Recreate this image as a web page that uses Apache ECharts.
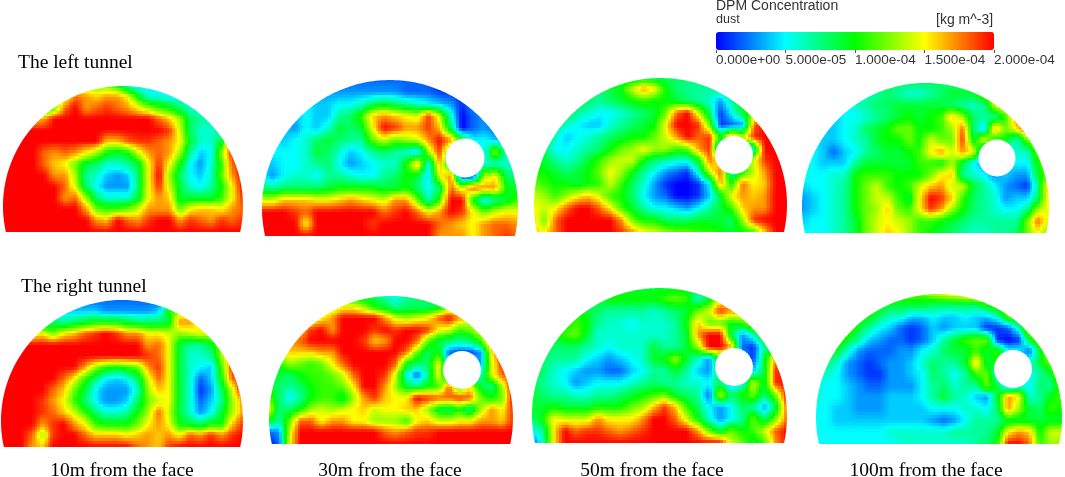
<!DOCTYPE html>
<html>
<head>
<meta charset="utf-8">
<title>DPM Concentration</title>
<style>
  html, body { margin: 0; padding: 0; background: #fff; }
  #chart { width: 1065px; height: 477px; }
</style>
</head>
<body>
<div id="chart"></div>
<script src="https://cdn.jsdelivr.net/npm/echarts@6/dist/echarts.min.js"></script>
<script>
// concentration, unit 1e-5 kg m^-3, rows go top to bottom
const left10 = [
  [20,20,20,20,18,16,14,14,13,12,12,10,6,4,4,4,4,4,4,4,4,4,4,4],
  [20,20,20,18,16,15,14,18,17,16,17,17,15,10,6,6,5,5,5,5,5,5,5,5],
  [18,18,16,14,8,12,18,20,17,18,19,18,17,15,13,11,10,8,6,6,5,5,5,5],
  [20,20,20,16,17,20,20,20,20,20,20,20,20,20,20,18,16,13,8,7,6,5,5,5],
  [20,20,20,20,20,20,20,20,20,20,20,20,20,20,20,20,19,14,8,6,6,7,9,9],
  [20,20,20,20,20,20,20,20,20,20,16,16,18,19,19,18,17,15,9,6,6,9,18,18],
  [20,20,20,20,18,17,18,17,15,13,10,9,10,14,17,18,17,13,7,4,5,13,19,20],
  [20,20,20,20,18,16,15,12,9,8,6,6,7,9,15,19,15,10,5,3,6,11,18,20],
  [20,20,20,20,20,17,17,13,7,6,4,3,4,8,15,20,13,8,5,4,6,12,17,20],
  [20,20,20,20,20,20,18,14,8,5,3,3,3,8,15,19,14,9,6,5,7,10,15,20],
  [20,20,20,20,20,20,17,18,13,8,6,6,6,9,15,17,16,9,9,9,9,11,15,19],
  [20,20,20,20,20,20,20,20,17,12,11,11,12,14,17,17,17,12,15,16,16,15,17,18],
  [20,20,20,20,20,20,20,20,20,17,16,20,18,17,19,20,20,17,19,18,17,19,18,19],
  [20,20,20,20,20,20,20,20,20,20,20,20,20,20,20,20,20,20,20,20,20,20,20,20]
];
const left30 = [
  [2,2,2,2,2,2,2,2,2,2,2,2,2,2,2,2,2,2,2,2,2,2,2,2],
  [3,3,3,3,3,3,3,3,3,3,3,3,3,2,2,2,1,1,1,1,1,1,1,1],
  [5,5,5,5,5,4,4,5,5,6,8,9,8,7,6,5,4,3,1,3,3,3,3,3],
  [4,4,4,4,5,4,4,7,8,11,16,17,16,15,14,19,14,6,0,2,3,3,3,3],
  [4,4,4,3,5,4,6,9,8,9,15,20,19,17,17,19,16,8,0,2,3,2,2,2],
  [5,5,4,5,6,8,9,8,7,7,12,14,12,13,14,17,20,17,10,5,5,4,3,3],
  [5,5,5,5,6,9,8,6,4,5,7,8,7,6,4,13,19,10,5,5,5,13,6,5],
  [4,4,5,5,6,7,8,5,3,4,5,6,6,10,17,5,17,8,6,6,6,6,6,6],
  [5,3,5,6,6,5,7,7,6,5,5,7,8,10,9,4,15,17,1,1,13,15,8,8],
  [8,7,8,8,8,8,9,10,10,10,10,9,9,10,8,5,8,18,14,18,17,17,10,9],
  [14,14,16,16,16,15,15,16,17,16,15,14,17,17,12,6,11,20,20,10,5,7,9,11],
  [20,20,20,19,18,20,20,20,20,20,20,18,19,20,18,15,17,20,19,15,12,14,15,15],
  [20,20,20,20,15,20,20,20,20,20,19,20,20,20,20,20,18,17,16,15,17,18,18,17],
  [20,20,20,20,20,20,20,20,20,20,20,20,20,20,20,20,17,17,17,15,17,18,19,18]
];
const left50 = [
  [8,8,8,8,8,8,8,8,8,8,8,8,8,8,8,8,8,8,8,8,8,8,8,8],
  [8,8,8,8,8,8,8,9,10,14,17,15,10,8,7,7,7,8,9,9,9,9,9,9],
  [9,9,9,9,9,8,7,8,9,10,11,10,10,9,8,7,6,3,7,10,10,10,10,10],
  [9,9,9,9,7,6,5,5,6,7,8,9,12,18,20,14,8,1,5,9,12,12,12,12],
  [8,8,8,6,5,4,4,6,7,8,9,10,15,20,20,19,12,1,2,3,18,20,20,20],
  [9,9,6,4,5,6,7,8,9,10,10,12,14,17,20,18,19,10,18,14,19,20,20,20],
  [10,8,5,5,6,7,8,10,12,13,15,13,13,11,12,17,19,3,3,3,6,20,20,20],
  [9,9,7,6,7,9,11,13,14,14,10,8,7,6,6,10,18,14,10,10,14,19,20,20],
  [10,10,9,8,9,10,12,15,13,10,7,5,3,2,1,6,14,18,6,10,14,17,20,20],
  [12,11,10,10,9,10,11,14,11,8,6,3,1,0,0,1,5,17,10,18,15,16,20,20],
  [14,13,11,13,15,16,14,11,10,8,5,3,2,0,0,1,4,9,15,17,16,17,20,20],
  [15,14,15,18,20,20,18,15,11,9,7,5,5,4,3,5,7,9,11,16,17,17,20,20],
  [16,12,18,20,20,20,20,20,17,12,10,10,8,8,8,9,9,9,8,13,19,20,20,20],
  [16,15,18,20,20,20,20,20,19,17,15,14,13,12,12,11,11,10,9,10,11,16,20,20]
];
const left100 = [
  [8,8,8,8,8,8,8,8,8,8,8,8,8,8,8,8,8,8,8,8,8,8,8,8],
  [6,6,6,6,6,6,6,7,8,7,6,6,7,8,9,9,9,12,12,12,12,12,12,12],
  [5,5,5,5,5,6,7,8,8,9,9,9,9,9,8,7,6,7,14,16,16,16,16,16],
  [4,4,4,4,5,5,6,7,8,9,10,9,10,11,16,13,8,7,7,11,18,18,18,18],
  [4,4,4,4,5,6,8,9,10,12,12,10,10,11,13,18,8,4,17,12,15,20,20,20],
  [5,5,4,4,5,6,7,9,10,10,12,10,14,12,12,19,9,15,10,10,6,12,15,15],
  [6,5,4,2,4,5,7,8,9,9,10,11,15,17,14,17,15,3,5,5,6,6,12,14],
  [6,5,4,4,4,7,9,9,9,9,9,11,11,10,13,9,5,3,5,5,5,5,10,13],
  [6,5,5,6,6,10,11,11,11,10,10,10,12,15,16,7,6,5,3,4,3,3,9,12],
  [4,5,5,6,7,10,12,14,11,10,11,14,16,17,14,14,9,7,5,3,2,1,7,17],
  [3,4,5,6,7,10,12,14,14,11,9,15,20,19,16,11,8,7,6,3,4,4,8,16],
  [3,4,5,6,7,10,12,13,16,12,11,15,19,17,13,10,8,7,6,5,5,7,13,15],
  [4,5,5,6,7,9,12,14,15,14,13,11,11,10,9,8,7,7,7,7,7,12,18,14],
  [5,5,5,6,7,9,12,14,16,15,13,11,10,9,8,7,6,6,7,7,8,12,15,12]
];
const right10 = [
  [2,2,2,2,2,2,2,2,2,2,2,2,2,2,2,2,2,2,2,2,2,2,2,2],
  [4,4,4,4,4,4,4,4,4,4,3,3,3,3,3,4,10,13,13,13,13,13,13,13],
  [6,6,6,6,6,8,7,8,9,10,10,10,9,8,8,8,9,17,17,14,14,14,14,14],
  [14,14,14,14,15,12,15,16,18,19,20,19,17,17,15,15,14,13,14,15,14,14,14,14],
  [20,20,20,20,20,20,20,20,20,20,20,20,20,20,17,18,15,9,7,7,9,13,13,13],
  [20,20,20,20,20,20,20,20,20,20,20,20,20,20,19,18,15,9,6,6,7,13,17,17],
  [20,20,20,20,20,20,20,20,17,13,11,10,11,12,17,19,15,9,6,5,4,11,19,19],
  [20,20,20,20,20,20,18,15,11,8,5,4,5,8,14,18,15,9,6,2,4,10,18,20],
  [20,20,20,20,20,18,16,12,9,5,3,3,3,6,13,16,15,9,6,1,3,8,14,20],
  [20,20,20,20,19,17,15,11,8,5,3,3,4,8,12,14,15,9,6,2,4,7,13,17],
  [20,20,20,20,19,18,16,14,11,8,6,6,7,10,13,18,14,9,6,3,5,9,13,17],
  [20,20,20,20,17,19,20,17,15,11,10,10,10,12,15,17,15,10,9,8,10,10,16,19],
  [20,20,20,18,13,19,20,20,18,16,16,16,15,16,17,16,17,15,18,17,19,17,19,20],
  [20,20,20,17,16,20,20,20,20,20,20,20,20,18,17,16,19,20,20,20,20,20,20,20]
];
const right30 = [
  [8,8,8,8,8,8,8,8,8,8,8,6,5,7,8,8,8,8,8,8,8,8,8,8],
  [13,13,13,13,13,13,13,15,15,13,10,9,7,8,8,8,9,12,12,12,12,12,12,12],
  [13,13,13,13,13,15,17,20,20,20,20,17,14,13,14,15,18,20,17,15,15,15,15,15],
  [16,16,16,16,19,20,17,20,20,20,19,20,19,20,20,19,15,14,11,12,15,15,15,15],
  [17,17,17,18,20,20,20,20,20,19,16,17,20,20,18,12,9,8,7,8,11,18,18,18],
  [14,14,16,16,16,17,17,20,20,20,20,20,20,18,12,8,10,2,1,1,3,15,20,20],
  [10,10,13,12,11,12,15,18,20,20,20,20,18,10,8,8,15,5,5,5,3,14,19,19],
  [9,9,8,10,11,11,12,14,18,20,20,19,14,6,2,7,15,5,5,5,6,14,18,20],
  [9,8,7,8,10,11,11,12,15,20,20,17,13,9,8,10,11,18,10,15,9,7,13,20],
  [12,8,5,7,10,11,11,9,13,17,19,16,15,15,20,19,18,18,19,18,12,10,12,20],
  [15,8,8,10,13,14,13,14,15,16,14,15,15,16,16,13,9,8,10,7,13,17,15,19],
  [10,7,12,18,18,15,17,17,15,15,13,13,13,11,15,16,14,14,15,15,17,17,16,19],
  [2,3,14,20,20,20,20,20,20,20,20,18,17,18,19,19,20,20,20,20,20,20,20,20],
  [0,2,15,20,20,20,20,20,20,20,20,20,20,20,20,20,20,20,20,20,20,20,20,20]
];
const right50 = [
  [9,9,9,9,9,9,9,9,9,9,9,9,9,9,9,9,9,9,9,9,9,9,9,9],
  [9,9,9,9,9,9,9,10,10,10,10,10,11,12,11,6,9,14,14,14,14,14,14,14],
  [9,9,9,9,10,9,8,7,7,7,7,6,7,8,9,12,14,19,17,17,17,17,17,17],
  [10,10,10,10,11,10,7,6,6,5,6,6,6,7,10,16,12,12,10,11,14,14,14,14],
  [9,9,9,11,12,9,6,6,6,6,6,6,6,7,9,17,20,20,9,3,6,12,12,12],
  [9,9,8,8,8,7,6,5,6,6,6,9,7,7,9,13,20,20,17,2,1,7,7,7],
  [9,8,7,7,7,5,4,3,4,5,6,9,10,13,9,6,3,10,5,5,1,9,17,17],
  [9,8,6,5,4,3,3,2,2,4,5,7,7,9,7,4,3,9,5,5,4,9,19,20],
  [9,7,6,5,3,4,5,5,5,6,7,8,7,7,6,6,5,8,3,5,14,9,19,20],
  [9,8,7,7,6,6,7,7,8,9,10,11,12,9,8,7,2,14,8,10,12,8,12,20],
  [9,9,10,9,9,9,10,10,10,12,13,16,19,16,11,8,5,3,5,8,7,3,8,18],
  [8,10,15,14,14,14,17,15,15,15,17,20,20,18,14,10,6,3,5,7,12,8,12,18],
  [5,7,15,20,18,19,19,18,17,18,19,20,20,20,20,17,12,9,12,10,11,14,18,20],
  [1,6,15,20,20,20,20,20,20,20,20,20,20,20,20,20,20,20,14,12,9,11,17,20]
];
const right100 = [
  [12,12,12,12,12,12,12,12,12,12,12,14,15,16,17,18,18,18,18,18,18,18,18,18],
  [10,10,10,10,10,10,10,9,9,9,9,8,8,8,8,8,10,12,12,12,12,12,12,12],
  [12,12,12,12,11,10,8,6,6,4,4,5,4,4,5,4,4,6,12,13,13,13,13,13],
  [14,14,14,13,9,7,5,4,2,1,2,4,3,4,4,4,1,1,2,6,15,15,15,15],
  [14,14,13,9,7,4,3,2,2,1,2,4,7,9,11,12,12,1,0,1,9,13,13,13],
  [10,10,9,6,3,2,2,2,3,3,5,6,8,9,9,11,9,11,5,5,2,9,16,16],
  [7,8,6,3,2,1,2,3,3,4,6,8,7,7,9,16,9,10,5,5,6,9,12,19],
  [6,6,5,3,2,1,1,3,3,4,5,8,7,5,7,11,12,5,5,5,5,7,9,15],
  [6,5,5,4,3,2,2,3,3,3,5,7,8,6,7,7,12,9,3,6,5,8,7,12],
  [6,5,5,4,3,3,3,4,4,4,5,7,9,7,6,4,3,9,17,15,6,7,10,11],
  [5,5,4,4,3,3,3,4,4,4,4,5,5,5,6,6,5,8,17,13,9,8,11,10],
  [5,5,4,4,4,4,4,4,4,4,4,3,2,3,5,7,7,7,9,9,9,9,9,9],
  [5,5,5,5,5,5,5,6,6,6,6,6,6,7,7,7,7,9,15,17,16,10,14,14],
  [5,5,5,5,5,5,5,5,6,6,6,6,6,6,6,7,8,10,20,20,18,11,13,13]
];
const panelValues = [left10, left30, left50, left100, right10, right30, right50, right100];

const barTicks = [0, 5, 10, 15, 20];
const barTickLabels = ['0.000e+00', '5.000e-05', '1.000e-04', '1.500e-04', '2.000e-04'];
const captions = ['10m from the face', '30m from the face', '50m from the face', '100m from the face'];

// where each tunnel section sits on the page: circle, cut line, fan duct hole
const panelLayout = [
  { cx: 123, cy: 206, r: 120, bottom: 232 },
  { cx: 390, cy: 208, r: 128, bottom: 236, hole: [465, 158, 19.5] },
  { cx: 660.5, cy: 204.5, r: 126.5, bottom: 232, hole: [734, 155, 19] },
  { cx: 925.5, cy: 206.5, r: 123.5, bottom: 233, hole: [997, 158, 18.5] },
  { cx: 122, cy: 421, r: 121, bottom: 447 },
  { cx: 391, cy: 418, r: 122, bottom: 444, hole: [462, 370, 19] },
  { cx: 659.5, cy: 415.5, r: 127.5, bottom: 443, hole: [734, 367, 19] },
  { cx: 939, cy: 417, r: 123, bottom: 444, hole: [1013, 369, 19] }
];
const captionCenters = [122, 390, 652, 926];

const rainbow = ['#0000ff', '#00ffff', '#00ff00', '#ffff00', '#ff0000'];
const maxValue = 20;
const subSteps = 4;

const chart = echarts.init(document.getElementById('chart'), null, { renderer: 'canvas' });

// one quad between neighbouring read values, shaded like the solver's contour fill
const renderCells = values => (params, api) => {
  const i = api.value(0);
  const j = api.value(1);
  if (i >= values[0].length - 1 || j >= values.length - 1) return null;
  const p0 = api.coord([i, j]);
  const p1 = api.coord([i + 1, j + 1]);
  const a = values[j][i];
  const b = values[j][i + 1];
  const c = values[j + 1][i];
  const d = values[j + 1][i + 1];
  const children = [];
  for (let sy = 0; sy < subSteps; sy++) {
    for (let sx = 0; sx < subSteps; sx++) {
      const u = (sx + 0.5) / subSteps;
      const w = (sy + 0.5) / subSteps;
      const v = (a * (1 - u) + b * u) * (1 - w) + (c * (1 - u) + d * u) * w;
      const x0 = Math.floor(p0[0] + (p1[0] - p0[0]) * sx / subSteps);
      const x1 = Math.ceil(p0[0] + (p1[0] - p0[0]) * (sx + 1) / subSteps);
      const y0 = Math.floor(p0[1] + (p1[1] - p0[1]) * sy / subSteps);
      const y1 = Math.ceil(p0[1] + (p1[1] - p0[1]) * (sy + 1) / subSteps);
      children.push({
        type: 'rect',
        shape: { x: x0, y: y0, width: x1 - x0, height: y1 - y0 },
        style: { fill: echarts.color.lerp(v / maxValue, rainbow) }
      });
    }
  }
  return { type: 'group', children };
};

// white everywhere outside the tunnel section, plus the duct hole
const renderMask = p => () => {
  const L = p.cx - p.r - 4;
  const R = p.cx + p.r + 4;
  const T = p.cy - p.r - 4;
  const B = p.bottom;
  const half = Math.acos((B - p.cy) / p.r);
  const points = [[L, B], [L, T], [R, T], [R, B]];
  for (let k = 0; k <= 160; k++) {
    const t = half + (2 * Math.PI - 2 * half) * k / 160;
    points.push([p.cx + p.r * Math.sin(t), p.cy + p.r * Math.cos(t)]);
  }
  const children = [
    { type: 'polygon', shape: { points }, style: { fill: '#fff' } },
    { type: 'rect', shape: { x: L, y: B, width: R - L, height: 4 }, style: { fill: '#fff' } }
  ];
  if (p.hole) {
    children.push({
      type: 'circle',
      shape: { cx: p.hole[0], cy: p.hole[1], r: p.hole[2] },
      style: { fill: '#fff' }
    });
  }
  return { type: 'group', children };
};

const grids = [];
const xAxes = [];
const yAxes = [];
const series = [];

panelValues.forEach((values, idx) => {
  const p = panelLayout[idx];
  grids.push({ left: p.cx - p.r, top: p.cy - p.r, width: 2 * p.r, height: p.bottom - p.cy + p.r });
  xAxes.push({ type: 'value', gridIndex: idx, min: 0, max: values[0].length - 1, show: false });
  yAxes.push({ type: 'value', gridIndex: idx, min: 0, max: values.length - 1, inverse: true, show: false });
  const cells = [];
  values.forEach((row, j) => row.forEach((v, i) => cells.push([i, j, v])));
  series.push({
    type: 'custom',
    xAxisIndex: idx,
    yAxisIndex: idx,
    data: cells,
    renderItem: renderCells(values),
    progressive: 0,
    silent: true,
    animation: false,
    clip: false,
    z: 1
  });
  series.push({
    type: 'custom',
    xAxisIndex: idx,
    yAxisIndex: idx,
    data: [[0, 0]],
    renderItem: renderMask(p),
    silent: true,
    animation: false,
    clip: false,
    z: 2
  });
});

// colour bar ticks live on their own little axis
grids.push({ left: 716, top: 49, width: 278, height: 1 });
xAxes.push({
  type: 'value',
  gridIndex: 8,
  min: 0,
  max: maxValue,
  interval: barTicks[1] - barTicks[0],
  axisLine: { show: false },
  splitLine: { show: false },
  axisTick: { show: true, length: 3, lineStyle: { color: '#555' } },
  axisLabel: {
    align: 'left',
    margin: 3,
    fontFamily: 'Liberation Sans',
    fontSize: 13.5,
    color: '#333',
    showMaxLabel: true,
    formatter: (val) => barTickLabels[barTicks.indexOf(val)]
  }
});
yAxes.push({ type: 'value', gridIndex: 8, show: false });

const serif = { fontFamily: 'Liberation Serif', fontSize: 19.5, fontWeight: 'normal', color: '#000' };
const sans = { fontFamily: 'Liberation Sans', fontWeight: 'normal', color: '#333' };

const titles = [
  { text: 'The left tunnel', left: 18, top: 53, textStyle: serif, padding: 0 },
  { text: 'The right tunnel', left: 21, top: 277, textStyle: serif, padding: 0 },
  { text: 'DPM Concentration', left: 716, top: -1, textStyle: { ...sans, fontSize: 14 }, padding: 0 },
  { text: 'dust', left: 716, top: 13, textStyle: { ...sans, fontSize: 12.5 }, padding: 0 },
  { text: '[kg m^-3]', left: 936, top: 13, textStyle: { ...sans, fontSize: 14 }, padding: 0 }
];
captions.forEach((text, i) => {
  titles.push({ text, left: captionCenters[i], top: 461, textAlign: 'center', textStyle: serif, padding: 0 });
});

chart.setOption({
  backgroundColor: '#fff',
  animation: false,
  title: titles,
  grid: grids,
  xAxis: xAxes,
  yAxis: yAxes,
  visualMap: {
    type: 'continuous',
    orient: 'horizontal',
    seriesIndex: [],
    min: 0,
    max: maxValue,
    left: 716,
    top: 32,
    itemWidth: 18,
    itemHeight: 278,
    padding: 0,
    calculable: false,
    realtime: false,
    text: null,
    showLabel: false,
    hoverLink: false,
    silent: true,
    inRange: { color: rainbow }
  },
  series
});
</script>
</body>
</html>
